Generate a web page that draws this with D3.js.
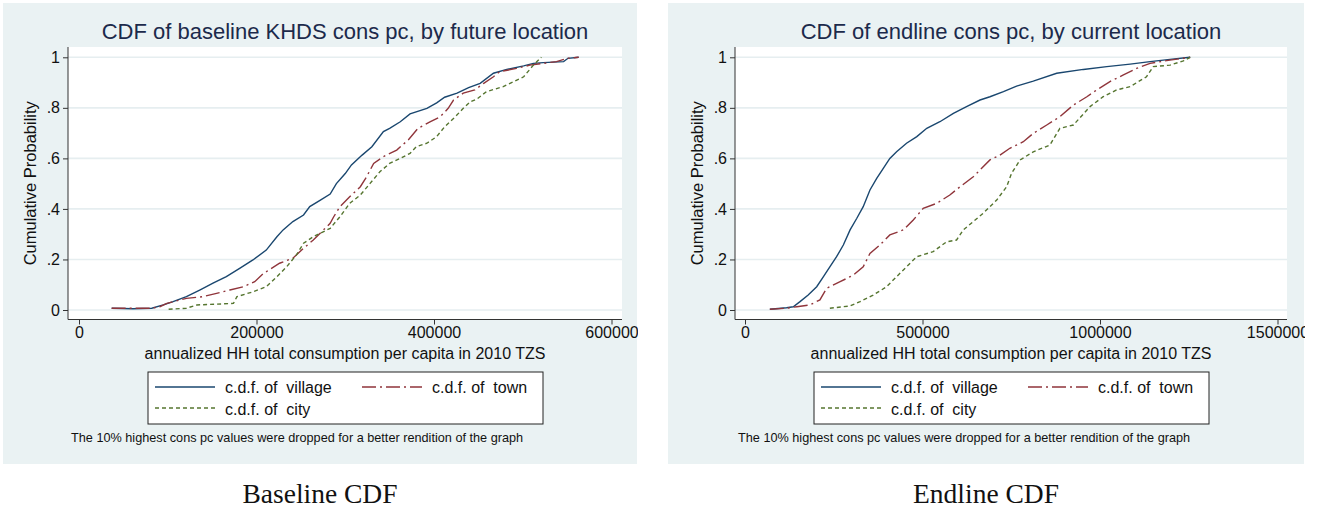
<!DOCTYPE html>
<html>
<head>
<meta charset="utf-8">
<script src="https://cdn.jsdelivr.net/npm/d3@7"></script>
<style>
  body { margin: 0; background: #fff; }
  svg { display: block; }
</style>
</head>
<body>
<script>
// CDF points: [consumption, cumulative probability]
var baselineVillage = [[36800,.007],[61000,.005],[82000,.007],[95000,.02],[106000,.033],[121000,.053],[136000,.079],[151000,.106],[166000,.132],[181000,.165],[196000,.198],[211000,.237],[223000,.29],[230000,.317],[241000,.35],[253000,.376],[260000,.409],[272000,.435],[283000,.459],[290000,.50],[300000,.54],[307000,.574],[319000,.613],[330000,.646],[343000,.706],[350000,.719],[362000,.745],[373000,.776],[392000,.798],[403000,.82],[412000,.842],[426000,.858],[439000,.88],[452000,.897],[467000,.937],[482000,.952],[501000,.966],[512000,.976],[523000,.979],[546000,.983],[551000,.996],[563000,1]];
var baselineTown = [[36800,.007],[82000,.007],[91000,.013],[99000,.026],[121000,.046],[140000,.053],[155000,.066],[170000,.079],[185000,.092],[198000,.112],[208000,.145],[226000,.185],[241000,.205],[253000,.244],[264000,.277],[283000,.343],[287000,.369],[294000,.409],[305000,.448],[317000,.488],[324000,.527],[332000,.58],[343000,.607],[358000,.633],[371000,.673],[382000,.719],[396000,.745],[407000,.765],[416000,.798],[422000,.831],[433000,.858],[446000,.871],[456000,.897],[467000,.923],[474000,.943],[493000,.956],[508000,.969],[523000,.976],[538000,.983],[550000,.996],[563000,1]];
var baselineCity = [[101000,.003],[121000,.007],[133000,.02],[174000,.026],[178000,.053],[196000,.072],[211000,.092],[223000,.132],[234000,.171],[245000,.218],[253000,.264],[264000,.29],[283000,.323],[294000,.369],[305000,.422],[317000,.455],[328000,.501],[339000,.547],[350000,.58],[362000,.60],[373000,.62],[380000,.646],[392000,.66],[403000,.686],[412000,.725],[424000,.765],[433000,.798],[441000,.824],[448000,.834],[459000,.864],[478000,.884],[490000,.904],[501000,.923],[512000,.969],[516000,.983],[521000,1]];

var endlineVillage = [[70000,.003],[117000,.009],[136000,.013],[155000,.033],[178000,.059],[202000,.092],[221000,.132],[239000,.171],[258000,.211],[277000,.257],[296000,.317],[315000,.363],[333000,.409],[352000,.475],[371000,.521],[390000,.561],[408000,.60],[427000,.626],[455000,.66],[484000,.686],[512000,.719],[549000,.745],[587000,.778],[624000,.805],[662000,.831],[690000,.844],[728000,.864],[765000,.886],[812000,.906],[878000,.937],[953000,.952],[1019000,.963],[1085000,.973],[1141000,.983],[1197000,.992],[1254000,1]];
var endlineTown = [[70000,.003],[117000,.007],[146000,.013],[183000,.02],[211000,.04],[230000,.086],[268000,.112],[305000,.138],[333000,.171],[352000,.224],[380000,.257],[408000,.297],[446000,.317],[474000,.356],[502000,.402],[540000,.422],[577000,.455],[606000,.488],[643000,.527],[690000,.594],[718000,.613],[746000,.64],[784000,.666],[812000,.699],[850000,.732],[887000,.765],[925000,.811],[963000,.844],[991000,.871],[1028000,.904],[1066000,.93],[1103000,.956],[1141000,.976],[1197000,.989],[1254000,1]];
var endlineCity = [[239000,.007],[296000,.016],[324000,.033],[361000,.059],[399000,.092],[427000,.132],[455000,.171],[484000,.211],[530000,.231],[568000,.27],[596000,.277],[615000,.317],[643000,.35],[671000,.383],[690000,.409],[709000,.435],[737000,.488],[751000,.541],[775000,.594],[812000,.626],[859000,.653],[887000,.719],[925000,.732],[972000,.805],[1009000,.844],[1047000,.871],[1085000,.884],[1131000,.923],[1150000,.963],[1197000,.969],[1235000,.986],[1254000,1]];

var yTicks = [0, .2, .4, .6, .8, 1];
var yTickLabels = ["0", ".2", ".4", ".6", ".8", "1"];
var baselineXTicks = [0, 200000, 400000, 600000];
var endlineXTicks = [0, 500000, 1000000, 1500000];
var seriesNames = ["village", "town", "city"];

var W = 1319, H = 509;
var fontSans = "'Liberation Sans', Arial, sans-serif";
var colors = { village: "#1a476f", town: "#90353b", city: "#55752f" };
var dashes = { village: null, town: "14,4,2,4", city: "4,3" };

var svg = d3.select("body").append("svg")
    .attr("width", W)
    .attr("height", H);

function drawPanel(cfg, id) {
  // the exported picture cuts each panel at its background edge
  svg.append("clipPath").attr("id", id)
    .append("rect")
    .attr("x", cfg.bgX0).attr("y", 0)
    .attr("width", cfg.bgX1 - cfg.bgX0 + 1).attr("height", 470);

  var g = svg.append("g").attr("clip-path", "url(#" + id + ")");

  // light panel background
  g.append("rect")
    .attr("x", cfg.bgX0).attr("y", 3)
    .attr("width", cfg.bgX1 - cfg.bgX0).attr("height", 461)
    .attr("fill", "#eaf2f3");

  var left = cfg.plotX0, right = cfg.plotX1, top = 47, bottom = 319.5;
  var cx = (left + right) / 2;

  g.append("rect")
    .attr("x", left).attr("y", top)
    .attr("width", right - left).attr("height", bottom - top)
    .attr("fill", "#fff");

  var x = d3.scaleLinear().domain([0, cfg.xMax]).range([cfg.x0, cfg.xMaxPx]);
  var y = d3.scaleLinear().domain([0, 1]).range([310, 57.3]);

  // grid
  g.selectAll(".grid").data(yTicks).enter().append("line")
    .attr("x1", left).attr("x2", right)
    .attr("y1", function(d) { return y(d); })
    .attr("y2", function(d) { return y(d); })
    .attr("stroke", "#e6eef0").attr("stroke-width", 1.6);

  // y axis
  var yAxis = d3.axisLeft(y).tickValues(yTicks)
    .tickFormat(function(d, i) { return yTickLabels[i]; })
    .tickSize(5).tickPadding(3).tickSizeOuter(0);
  var ya = g.append("g").attr("transform", "translate(" + left + ",0)").call(yAxis);
  ya.select(".domain").attr("d", "M0," + top + "V" + bottom).attr("stroke", "#333");
  ya.selectAll(".tick line").attr("stroke", "#333");
  ya.selectAll("text").style("font-family", fontSans).style("font-size", "16px").attr("fill", "#111");

  // x axis
  var xAxis = d3.axisBottom(x).tickValues(cfg.xTicks)
    .tickFormat(d3.format("d"))
    .tickSize(5).tickPadding(2).tickSizeOuter(0);
  var xa = g.append("g").attr("transform", "translate(0," + bottom + ")").call(xAxis);
  xa.select(".domain").attr("d", "M" + left + ",0H" + right).attr("stroke", "#333");
  xa.selectAll(".tick line").attr("stroke", "#333");
  xa.selectAll("text").style("font-family", fontSans).style("font-size", "16px").attr("fill", "#111");

  // curves
  var line = d3.line()
    .x(function(d) { return x(d[0]); })
    .y(function(d) { return y(d[1]); });
  cfg.series.forEach(function(s, i) {
    var name = seriesNames[i];
    g.append("path")
      .datum(s)
      .attr("d", line)
      .attr("fill", "none")
      .attr("stroke", colors[name])
      .attr("stroke-width", 1.4)
      .attr("stroke-dasharray", dashes[name]);
  });

  // titles
  g.append("text")
    .attr("x", cx).attr("y", 39)
    .attr("text-anchor", "middle")
    .style("font-family", fontSans).style("font-size", "22px")
    .attr("fill", "#1c2a4b")
    .text(cfg.title);

  g.append("text")
    .attr("transform", "translate(" + (left - 38) + "," + ((top + bottom) / 2) + ") rotate(-90)")
    .attr("text-anchor", "middle")
    .attr("dominant-baseline", "central")
    .style("font-family", fontSans).style("font-size", "16.5px")
    .attr("fill", "#111")
    .text("Cumulative Probability");

  g.append("text")
    .attr("x", cx).attr("y", 359)
    .attr("text-anchor", "middle")
    .style("font-family", fontSans).style("font-size", "16px")
    .attr("fill", "#111")
    .text("annualized HH total consumption per capita in 2010 TZS");

  // legend
  var lg = g.append("g").attr("transform", "translate(" + (cx - 197) + ",372)");
  lg.append("rect")
    .attr("width", 395).attr("height", 52)
    .attr("fill", "#fff").attr("stroke", "#222").attr("stroke-width", 1);
  var entries = [
    { name: "village", lx: 7, ly: 15, ty: 20.5 },
    { name: "town", lx: 214, ly: 15, ty: 20.5 },
    { name: "city", lx: 7, ly: 36, ty: 43 }
  ];
  entries.forEach(function(e) {
    lg.append("line")
      .attr("x1", e.lx).attr("x2", e.lx + 60)
      .attr("y1", e.ly).attr("y2", e.ly)
      .attr("stroke", colors[e.name]).attr("stroke-width", 1.4)
      .attr("stroke-dasharray", dashes[e.name]);
    lg.append("text")
      .attr("x", e.lx + 70).attr("y", e.ty)
      .style("font-family", fontSans).style("font-size", "16px")
      .style("white-space", "pre")
      .attr("fill", "#111")
      .text("c.d.f. of  " + e.name);
  });

  // note
  g.append("text")
    .attr("x", left + 3).attr("y", 442)
    .style("font-family", fontSans).style("font-size", "12.7px")
    .attr("fill", "#111")
    .text("The 10% highest cons pc values were dropped for a better rendition of the graph");

  // caption under panel
  svg.append("text")
    .attr("x", (cfg.bgX0 + cfg.bgX1) / 2).attr("y", 503)
    .attr("text-anchor", "middle")
    .style("font-family", "'Liberation Serif', 'DejaVu Serif', serif")
    .style("font-size", "27.5px")
    .attr("fill", "#111")
    .text(cfg.caption);
}

drawPanel({
  bgX0: 3, bgX1: 637,
  plotX0: 68, plotX1: 622,
  x0: 79, xMax: 600000, xMaxPx: 611.5,
  xTicks: baselineXTicks,
  series: [baselineVillage, baselineTown, baselineCity],
  title: "CDF of baseline KHDS cons pc, by future location",
  caption: "Baseline CDF"
}, "clipBaseline");

drawPanel({
  bgX0: 668, bgX1: 1304,
  plotX0: 735, plotX1: 1287,
  x0: 745, xMax: 1500000, xMaxPx: 1277.5,
  xTicks: endlineXTicks,
  series: [endlineVillage, endlineTown, endlineCity],
  title: "CDF of endline cons pc, by current location",
  caption: "Endline CDF"
}, "clipEndline");
</script>
</body>
</html>
